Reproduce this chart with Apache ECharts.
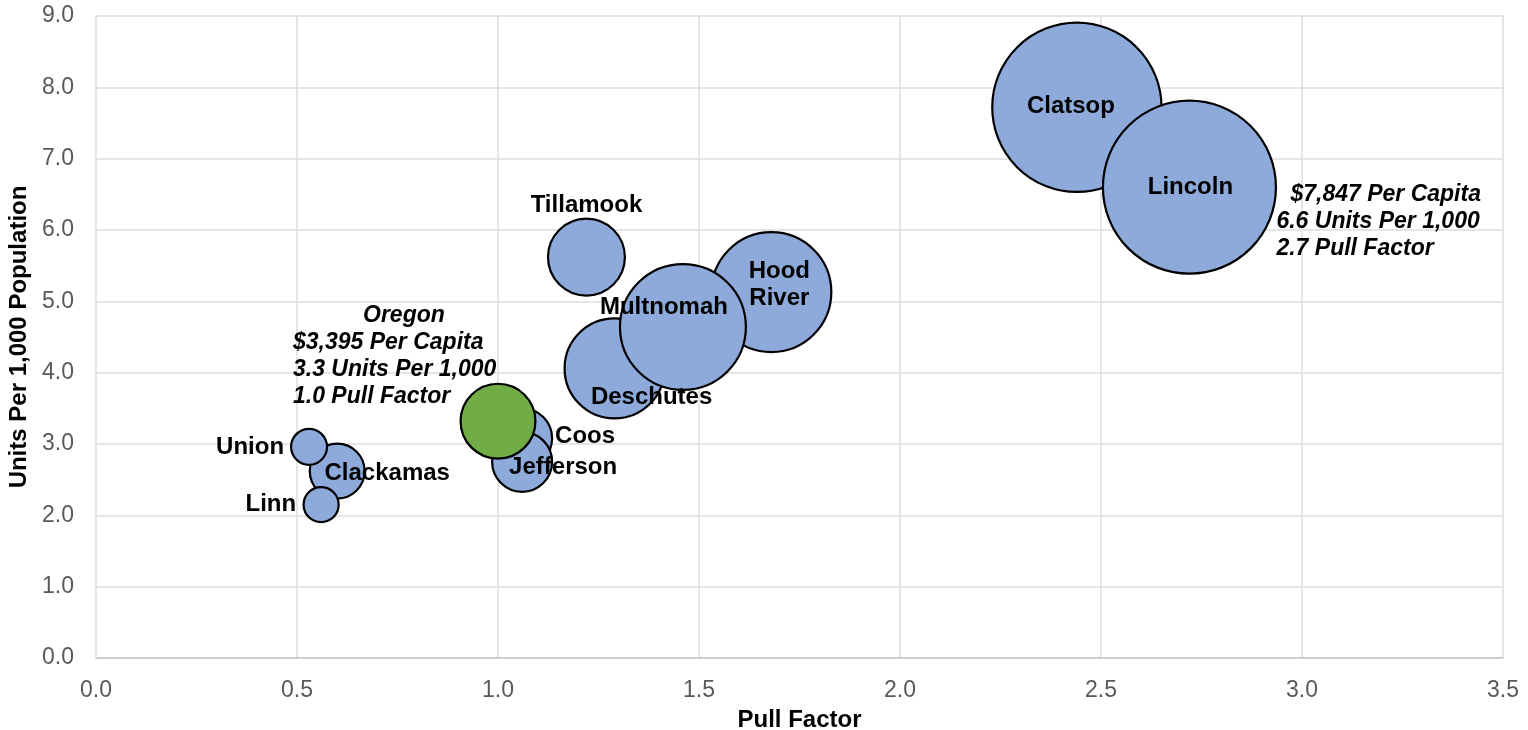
<!DOCTYPE html>
<html>
<head>
<meta charset="utf-8">
<script src="https://cdn.jsdelivr.net/npm/echarts@6/dist/echarts.min.js"></script>
<style>
html,body{margin:0;padding:0;background:#fff;}
#chart{width:1528px;height:730px;}
</style>
</head>
<body>
<div id="chart"></div>
<script>
// ---- Data ----
const counties    = ['Clatsop', 'Lincoln', 'Hood\nRiver', 'Deschutes', 'Multnomah', 'Tillamook', 'Coos', 'Jefferson', 'Clackamas', 'Union', 'Linn'];
const pullFactor  = [2.44, 2.72, 1.68, 1.29, 1.46, 1.22, 1.06, 1.06, 0.60, 0.53, 0.56];
const unitsPer1000 = [7.72, 6.60, 5.13, 4.06, 4.64, 5.62, 3.08, 2.75, 2.62, 2.96, 2.15];
const perCapita   = [7680, 7847, 5440, 4535, 5710, 3490, 2720, 2720, 2490, 1630, 1590];

const stateName = 'Oregon';
const statePull = 1.0;
const stateUnits = 3.32;
const statePerCapita = 3395;

const xTicks = [0, 0.5, 1.0, 1.5, 2.0, 2.5, 3.0, 3.5];
const yTicks = [0, 1, 2, 3, 4, 5, 6, 7, 8, 9];

// ---- Label placement (style only) ----
const labelStyle = {
  'Clatsop':   {position: 'inside', align: 'center', offset: [-6, -1]},
  'Lincoln':   {position: 'inside', align: 'center', offset: [1, 0]},
  'Hood\nRiver': {position: 'inside', align: 'center', offset: [8, -7]},
  'Deschutes': {position: 'inside', align: 'center', offset: [37, 29]},
  'Multnomah': {position: 'inside', align: 'center', offset: [-19, -20]},
  'Tillamook': {position: 'inside', align: 'center', offset: [0, -52]},
  'Coos':      {position: 'inside', align: 'left', offset: [33, -2]},
  'Jefferson': {position: 'inside', align: 'center', offset: [41, 6]},
  'Clackamas': {position: 'inside', align: 'center', offset: [50, 2]},
  'Union':     {position: 'inside', align: 'right', offset: [-25, 1]},
  'Linn':      {position: 'inside', align: 'right', offset: [-25, 0]}
};

const sizeScale = 173 / 7847; // diameter px per $ per capita
const FONT = '"Liberation Sans", Arial, sans-serif';
const FS = 24;

const countyData = counties.map((c, i) => {
  const ls = labelStyle[c];
  return {
    name: c,
    value: [pullFactor[i], unitsPer1000[i], perCapita[i]],
    label: Object.assign({show: true, formatter: c, verticalAlign: 'middle'}, ls)
  };
});

function fmtMoney(v) { return '$' + v.toLocaleString('en-US'); }
const lincolnIdx = counties.indexOf('Lincoln');
const noteStyle = {fontFamily: FONT, fontSize: FS - 1, fontWeight: 'bold', fontStyle: 'italic', color: '#000', lineHeight: 27};

const chart = echarts.init(document.getElementById('chart'), null, {renderer: 'canvas'});
chart.setOption({
  animation: false,
  backgroundColor: '#ffffff',
  grid: {left: 96, right: 25, top: 16, bottom: 72, containLabel: false, outerBoundsMode: 'none'},
  xAxis: {
    type: 'value', min: xTicks[0], max: xTicks[xTicks.length - 1], interval: 0.5,
    name: 'Pull Factor', nameLocation: 'middle', nameGap: 50,
    nameTextStyle: {fontFamily: FONT, fontSize: FS, fontWeight: 'bold', color: '#000'},
    axisLine: {show: true, lineStyle: {color: '#c6c6c6', width: 1.5}},
    axisTick: {show: false},
    axisLabel: {formatter: v => v.toFixed(1), fontFamily: FONT, fontSize: 23, color: '#595959', margin: 21},
    splitLine: {show: true, lineStyle: {color: '#dcdcdc', width: 1.5}}
  },
  yAxis: {
    type: 'value', min: yTicks[0], max: yTicks[yTicks.length - 1], interval: 1,
    name: 'Units Per 1,000 Population', nameLocation: 'middle', nameGap: 58,
    nameTextStyle: {fontFamily: FONT, fontSize: FS, fontWeight: 'bold', color: '#000'},
    axisLine: {show: false},
    axisTick: {show: false},
    axisLabel: {formatter: v => v.toFixed(1), fontFamily: FONT, fontSize: 23, color: '#595959', margin: 22, padding: [6, 0, 0, 0]},
    splitLine: {show: true, lineStyle: {color: '#dcdcdc', width: 1.5}}
  },
  series: [
    {
      name: 'Counties', type: 'scatter',
      data: countyData,
      symbolSize: v => v[2] * sizeScale,
      itemStyle: {color: '#8eaadb', borderColor: '#000', borderWidth: 2.2, opacity: 1},
      label: {fontFamily: FONT, fontSize: FS, fontWeight: 'bold', color: '#000', lineHeight: 27},
      emphasis: {disabled: true},
      z: 2
    },
    {
      name: stateName, type: 'scatter',
      data: [{name: stateName, value: [statePull, stateUnits, statePerCapita]}],
      symbolSize: v => v[2] * sizeScale,
      itemStyle: {color: '#70ad47', borderColor: '#000', borderWidth: 2.2, opacity: 1},
      label: {
        show: true, position: 'inside', align: 'left', verticalAlign: 'middle',
        offset: [-205, -65], color: '#000',
        formatter: () => '{h|' + stateName + '}\n{t|' + fmtMoney(statePerCapita) + ' Per Capita}\n{t|' +
          stateUnits.toFixed(1) + ' Units Per 1,000}\n{t|' + statePull.toFixed(1) + ' Pull Factor}',
        rich: {
          h: Object.assign({padding: [0, 0, 0, 70]}, noteStyle),
          t: noteStyle
        }
      },
      emphasis: {disabled: true},
      z: 3
    },
    {
      name: 'LincolnNote', type: 'scatter',
      data: [{name: 'note', value: [pullFactor[lincolnIdx], unitsPer1000[lincolnIdx], perCapita[lincolnIdx]]}],
      symbolSize: 1,
      itemStyle: {color: '#000', opacity: 0},
      label: {
        show: true, position: 'inside', align: 'left', verticalAlign: 'middle',
        offset: [87, 34], color: '#000', opacity: 1, textBorderWidth: 0,
        formatter: () => '{a|' + fmtMoney(perCapita[lincolnIdx]) + ' Per Capita}\n{t|' +
          unitsPer1000[lincolnIdx].toFixed(1) + ' Units Per 1,000}\n{t|' + pullFactor[lincolnIdx].toFixed(1) + ' Pull Factor}',
        rich: {
          a: Object.assign({padding: [0, 0, 0, 14]}, noteStyle),
          t: noteStyle
        }
      },
      emphasis: {disabled: true},
      z: 4
    }
  ]
});
</script>
</body>
</html>
